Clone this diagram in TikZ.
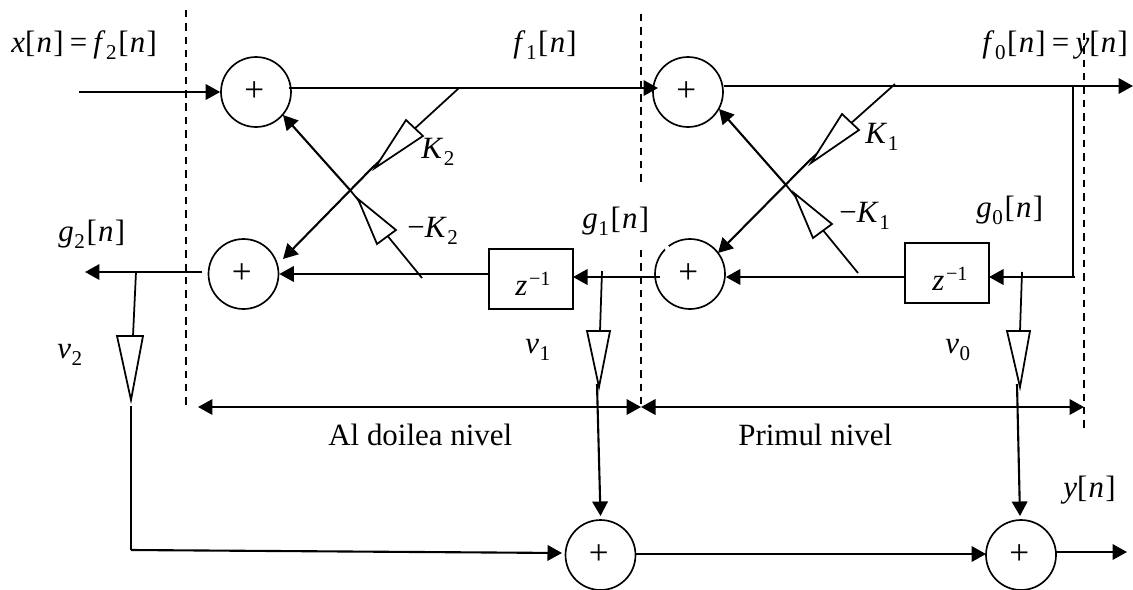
\documentclass[tikz,border=0pt]{standalone}
\usepackage{fontspec}
\setmainfont{Liberation Serif}
\usetikzlibrary{arrows.meta}
\newcommand{\vr}[1]{\textit{#1}}
\newcommand{\lowr}[1]{\kern0.02em\lower0.55ex\hbox{\fontsize{12}{12}\selectfont #1}\kern0.05em}
\newcommand{\idx}{[\kern0.04em\textit{n}\kern0.04em]}
\newcommand{\plusmark}{\kern-0.1em\raisebox{-0.14em}{+}}
\newcommand{\invz}{\vr{z}\raisebox{0.7ex}{\fontsize{11.5}{11.5}\selectfont\kern0.08em\textminus1}}

\begin{document}
\begin{tikzpicture}[
  x=0.02cm,y=-0.02cm,
  >={Triangle[length=0.29cm,width=0.31cm]},
  sum/.style={circle,draw,line width=0.95pt,minimum size=1.40cm,inner sep=0pt,font=\fontsize{20}{20}\selectfont},
  delay/.style={draw,line width=1pt,minimum width=1.68cm,minimum height=1.20cm,inner sep=0pt},
  flow/.style={->,line width=1.2pt},
  wire/.style={line width=1pt},
  amp/.style={draw,fill=white,line width=1pt,line join=miter},
  guide/.style={line width=0.9pt,dash pattern=on 4.2pt off 3.4pt},
  lbl/.style={anchor=base west,inner sep=0pt,font=\fontsize{17.6}{17.6}\selectfont}
]
  \path[use as bounding box] (0,0) rectangle (1133,589);

  % level boundaries
  \draw[guide] (186,10) -- (186,407);
  \draw[guide] (641,14) -- (641,184);
  \draw[guide] (641,250) -- (641,407);
  \draw[guide] (1084,33) -- (1084,430);

  % adders and delays
  \node[sum] (sumfa) at (256,92) {\plusmark};
  \node[sum] (sumga) at (243.5,274) {\plusmark};
  \node[sum] (sumfb) at (688,92) {\plusmark};
  \node[sum] (sumgb) at (690,274) {\plusmark};
  \node[sum] (sumoa) at (600.5,555) {\plusmark};
  \node[sum] (sumob) at (1021,555) {\plusmark};
  \node[delay] (dlya) at (531,279) {};
  \node[delay] (dlyb) at (947,273) {};
  \fill[white] (667,248) circle (2.5);

  % junctions and free ends
  \coordinate (xin) at (79,92);
  \coordinate (fa) at (289,88);
  \coordinate (fatip) at (658,88);
  \coordinate (fb) at (724,86);
  \coordinate (yout) at (1133,86);
  \coordinate (gout) at (85,272);
  \coordinate (gastart) at (202,272);
  \coordinate (kata) at (459,88);
  \coordinate (katb) at (895,84);
  \coordinate (mkata) at (422,278);
  \coordinate (mkatb) at (858,273);
  \coordinate (dlyatip) at (573,277);
  \coordinate (dlybtip) at (989,277);
  \coordinate (gbstart) at (660,277);
  \coordinate (back) at (1073,86);
  \coordinate (backlow) at (1075,277);
  \coordinate (tapa) at (602,271);
  \coordinate (tapb) at (1022,272);
  \coordinate (tapc) at (136,272);
  \coordinate (low) at (131,550);

  % forward and backward paths
  \draw[flow] (xin) -- (sumfa.west);
  \draw[flow] (fa) -- (fatip);
  \draw[flow] (fb) -- (yout);
  \draw[flow] (gastart) -- (gout);
  \draw[flow] (dlya.west |- sumga.east) -- (sumga.east);
  \draw[flow] (dlyb.west |- backlow) -- (sumgb.east |- backlow);
  \draw[flow] (gbstart) -- (dlyatip);
  \draw[wire] (back) -- (back |- backlow);
  \draw[flow] (backlow) -- (dlybtip);

  % cross lattice
  \coordinate (ka) at (375,165);
  \coordinate (kb) at (812,158);
  \coordinate (mka) at (350,190);
  \coordinate (mkb) at (786,185);
  \coordinate (kaend) at (283,259);
  \coordinate (kbend) at (718,253);
  \coordinate (mkaend) at (283,115);
  \coordinate (mkbend) at (719,109);
  \draw[wire] (kata) -- (ka);
  \draw[flow] (ka) -- (kaend);
  \draw[wire] (katb) -- (kb);
  \draw[flow] (kb) -- (kbend);
  \draw[wire] (mkata) -- (mka);
  \draw[flow] (mka) -- (mkaend);
  \draw[wire] (mkatb) -- (mkb);
  \draw[flow] (mkb) -- (mkbend);

  % output taps
  \coordinate (tapaout) at (597,384);
  \coordinate (tapbout) at (1017,384);
  \coordinate (tapcout) at (131,406);
  \coordinate (tapaend) at (600.5,516);
  \coordinate (tapbend) at (1020,516);
  \coordinate (lowtip) at (562,553);
  \coordinate (sumoout) at (1127,552);
  \coordinate (sumoin) at (1056,552);
  \coordinate (midstart) at (636,554);
  \coordinate (midtip) at (986,554);
  \draw[wire] (tapa) -- (600,331);
  \draw[wire] (tapb) -- (1020,331);
  \draw[wire] (tapc) -- (133,336);
  \draw[flow] (tapaout) -- (tapaend);
  \draw[flow] (tapbout) -- (tapbend);
  \draw[wire] (tapcout) -- (low);
  \draw[flow] (low) -- (lowtip);
  \draw[flow] (midstart) -- (midtip);
  \draw[flow] (sumoin) -- (sumoout);

  % gain triangles
  \foreach \ax/\ay/\bx/\by/\cx/\cy in {406/120/423/136/375/168,842/114/859/130/811/163,358/199/396/230/377/244,794/193/832/224/813/238,587/331/610/331/599/387,1007/331/1030/331/1020/387,117/336/143/336/131/400} {
    \draw[amp] (\ax,\ay) -- (\bx,\by) -- (\cx,\cy) -- cycle;
  }

  % span arrows
  \coordinate (spana) at (198,407);
  \coordinate (spanb) at (641,407);
  \coordinate (spanc) at (1084,407);
  \draw[flow,<->] (spana) -- (spanb);
  \draw[flow,<->] (spanb) -- (spanc);

  % labels
  \node[lbl] (lblx) at (11,52) {\vr{x}\idx\kern0.2em=\kern0.2em\vr{f}\lowr{2}\idx};
  \node[lbl] (lblfa) at (513,52) {\vr{f}\lowr{1}\idx};
  \node[lbl] (lblfb) at (982,52) {\vr{f}\lowr{0}\idx\kern0.2em=\kern0.2em\vr{y}\idx};
  \node[lbl] (lblka) at (421,158) {\vr{K}\lowr{2}};
  \node[lbl] (lblmka) at (407,237) {\textminus\vr{K}\lowr{2}};
  \node[lbl] (lblkb) at (865,143) {\vr{K}\lowr{1}};
  \node[lbl] (lblmkb) at (839,222) {\textminus\vr{K}\lowr{1}};
  \node[lbl] (lblgc) at (58,241) {\vr{g}\lowr{2}\idx};
  \node[lbl] (lblga) at (582,228) {\vr{g}\lowr{1}\idx};
  \node[lbl] (lblgb) at (976,217) {\vr{g}\lowr{0}\idx};
  \node[lbl] (lblvc) at (57,358) {\vr{v}\lowr{2}};
  \node[lbl] (lblva) at (525,353) {\vr{v}\lowr{1}};
  \node[lbl] (lblvb) at (945,353) {\vr{v}\lowr{0}};
  \node[lbl] (lblza) at (515,295) {\invz};
  \node[lbl] (lblzb) at (932,290) {\invz};
  \node[lbl] (lvla) at (328,445) {Al doilea nivel};
  \node[lbl] (lvlb) at (738,445) {Primul nivel};
  \node[lbl] (lbly) at (1063,497) {\vr{y}\idx};
\end{tikzpicture}
\end{document}
